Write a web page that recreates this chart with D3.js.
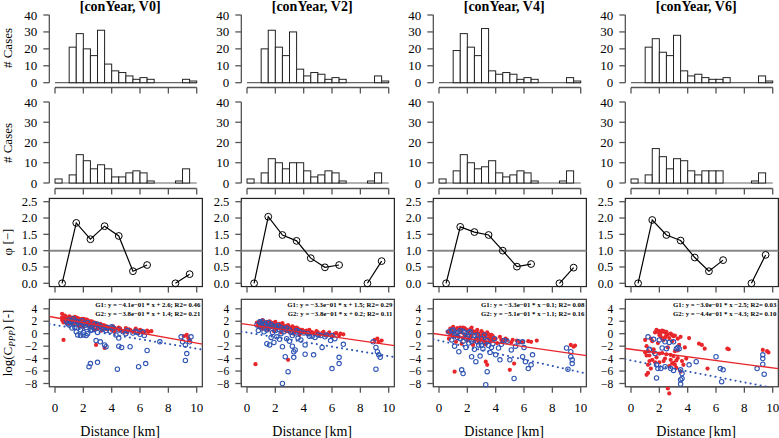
<!DOCTYPE html>
<html><head><meta charset="utf-8">
<script src="https://cdn.jsdelivr.net/npm/d3@7"></script>
<style>body{margin:0;background:#fff} svg{display:block} svg text{font-family:"Liberation Serif","DejaVu Serif","Times New Roman",Times,serif}</style>
</head><body><svg id="c" width="779" height="438" font-family="Liberation Serif, DejaVu Serif, serif"></svg>
<script>
// ---------------- DATA ----------------
const titles = ["[conYear, V0]", "[conYear, V2]", "[conYear, V4]", "[conYear, V6]"];
const binStarts = [0,0.5,1,1.5,2,2.5,3,3.5,4,4.5,5,5.5,6,6.5,7,7.5,8,8.5,9,9.5];
const histTop = [
  [0,0,21,29,20,16,31,11,7,6,4,2,3,2,0,0,0,0,2,1],
  [0,0,20,31,21,16,30,8,4,6,5,2,3,2,0,0,0,0,4,1],
  [0,0,19,29,21,16,32,7,5,6,5,2,3,2,0,0,0,0,3,1],
  [0,0,21,26,18,16,28,7,4,5,3,2,2,3,0,0,0,0,4,1]
];
const histBottom = [
  [2,0,4,14,11,7,9,7,3,3,5,6,5,1,0,0,0,1,7,0],
  [2,0,5,12,10,7,10,10,6,3,4,6,5,1,0,0,0,1,5,0],
  [2,0,6,14,10,7,8,11,5,3,4,6,5,1,0,0,0,1,6,0],
  [2,0,4,17,13,7,12,11,6,4,6,6,6,0,0,0,0,1,5,0]
];
const phiX = [0.5,1.5,2.5,3.5,4.5,5.5,6.5,7.5,8.5,9.5];
const phiVals = [
  [0,1.85,1.35,1.75,1.45,0.37,0.56,null,0,0.28],
  [0,2.04,1.48,1.30,0.77,0.49,0.56,null,0,0.68],
  [0,1.73,1.57,1.48,1.0,0.51,0.59,null,0,0.48],
  [0,1.94,1.48,1.31,0.79,0.37,0.71,null,0,0.87]
];
const fitG1 = [[-0.41,2.6],[-0.33,1.5],[-0.33,-0.1],[-0.30,-2.5]];
const fitG2 = [[-0.38,1.4],[-0.38,0.2],[-0.51,-1.1],[-0.44,-4.3]];
const fitLabelG1 = ["G1: y = \u22124.1e\u221201 * x + 2.6; R2= 0.46","G1: y = \u22123.3e\u221201 * x + 1.5; R2= 0.29","G1: y = \u22123.3e\u221201 * x \u22120.1; R2= 0.08","G1: y = \u22123.0e\u221201 * x \u22122.5; R2= 0.03"];
const fitLabelG2 = ["G2: y = \u22123.8e\u221201 * x + 1.4; R2= 0.21","G2: y = \u22123.8e\u221201 * x + 0.2; R2= 0.11","G2: y = \u22125.1e\u221201 * x \u22121.1; R2= 0.16","G2: y = \u22124.4e\u221201 * x \u22124.3; R2= 0.10"];

const g1V0 = [[0.5,3.2],[0.5,2.6],[0.5,2.2],[0.6,2.0],[0.6,1.8],[0.6,-1.0],[0.7,2.4],[0.7,2.9],[0.8,2.1],[0.8,1.7],[0.9,2.5],[0.9,2.0],[1.0,2.8],[1.0,2.3],[1.0,1.6],[1.1,2.0],[1.1,2.6],[1.2,2.2],[1.2,1.8],[1.3,2.5],[1.3,1.5],[1.4,2.1],[1.4,2.7],[1.5,1.9],[1.5,2.3],[1.6,1.6],[1.6,2.5],[1.7,2.0],[1.7,1.2],[1.8,2.2],[1.8,1.7],[1.9,1.4],[1.9,2.4],[2.0,1.9],[2.0,1.1],[2.1,2.1],[2.1,1.5],[2.2,1.7],[2.2,2.3],[2.3,1.3],[2.3,1.9],[2.4,1.6],[2.5,2.0],[2.5,1.0],[2.6,1.5],[2.7,1.8],[2.7,1.2],[2.8,1.4],[2.8,0.6],[2.9,1.7],[2.9,-1.8],[3.0,1.2],[3.0,0.8],[3.1,1.5],[3.2,1.0],[3.2,1.3],[3.3,0.5],[3.4,1.1],[3.5,-2.3],[3.5,0.9],[3.6,1.2],[3.7,0.7],[3.8,1.0],[4.0,0.6],[4.1,1.2],[4.2,0.3],[4.4,0.8],[4.5,1.0],[4.6,0.5],[4.8,0.4],[5.0,0.9],[5.1,0.2],[5.3,0.6],[5.5,0.3],[5.7,0.8],[5.9,0.1],[6.1,0.5],[6.3,0.2],[6.6,0.3],[6.8,0.4],[9.1,-0.4],[9.3,-0.2],[9.4,-0.7],[9.5,-1.0],
  [0.6,2.4],[0.7,2.2],[0.8,2.6],[0.9,2.3],[1.0,2.0],[1.1,2.4],[1.2,2.6],[1.3,2.1],[1.4,1.8],[1.5,2.6],[1.6,2.2],[1.7,2.4],[1.8,1.9],[1.9,2.1],[2.0,2.4],[2.1,1.8],[2.2,2.0],[2.3,2.2],[2.4,1.9],[2.5,1.7],[2.6,2.0],[2.7,1.5],[2.8,1.8],[2.9,1.3],[3.0,1.6],[3.1,1.1],[3.2,1.6],[3.3,1.2],[3.4,1.4],[3.5,1.3],[3.6,0.8],[3.7,1.1],[3.9,0.8],[4.2,0.9],[4.6,0.8],[5.2,0.7],[5.6,0.5],[6.0,0.6],[6.5,0.5]];
const g2V0 = [[0.9,1.6],[1.0,2.2],[1.1,1.9],[1.2,0.9],[1.3,2.4],[1.4,1.5],[1.5,0.3],[1.5,2.0],[1.6,-0.2],[1.7,1.7],[1.8,0.6],[1.9,2.1],[2.0,0.2],[2.1,1.3],[2.2,-0.3],[2.3,1.8],[2.4,-5.3],[2.5,-4.8],[2.5,0.5],[2.6,1.1],[2.8,1.6],[2.9,-1.1],[3.0,-4.6],[3.0,0.2],[3.2,-1.3],[3.2,1.2],[3.4,0.7],[3.5,-1.8],[3.6,-2.1],[3.7,1.0],[3.9,0.4],[4.1,0.9],[4.3,-0.2],[4.4,-5.7],[4.5,-0.7],[4.5,-2.0],[4.7,-2.2],[4.8,0.3],[5.1,0.5],[5.3,-2.1],[5.5,0.1],[5.7,0.4],[5.9,-5.3],[6.0,-0.1],[6.2,0.3],[6.4,-4.8],[6.5,-2.7],[7.4,-1.3],[8.9,-0.5],[9.0,-1.3],[9.2,-1.8],[9.2,-4.3],[9.3,-3.2],[9.5,-1.3],[9.6,-0.5],
  [0.8,2.0],[1.0,1.4],[1.2,2.1],[1.4,1.0],[1.6,1.9],[1.8,1.3],[2.0,1.6],[2.2,1.0],[2.4,1.4],[2.6,0.6],[2.8,1.0],[3.0,1.5],[3.3,0.9],[3.6,0.5],[4.0,1.1],[4.5,0.6],[5.0,0.0],[5.8,0.2],[6.3,-0.3],[2.0,-0.2],[1.8,-0.3],[2.3,0.0]];
const g1V2 = [[0.6,-4.9],[0.7,1.8],[0.8,1.2],[0.9,2.0],[1.0,1.5],[1.1,2.2],[1.1,0.8],[1.2,1.7],[1.3,1.1],[1.4,1.9],[1.5,0.6],[1.5,1.4],[1.6,2.0],[1.7,1.0],[1.8,1.6],[1.9,0.4],[2.0,1.3],[2.0,1.9],[2.1,0.8],[2.2,1.5],[2.3,1.1],[2.4,0.2],[2.5,1.7],[2.5,0.9],[2.6,1.3],[2.7,0.5],[2.8,1.0],[2.9,-4.2],[2.9,1.4],[3.0,0.3],[3.1,0.9],[3.2,1.2],[3.3,0.0],[3.4,0.7],[3.5,1.0],[3.6,0.4],[3.7,-0.2],[3.8,0.6],[4.0,0.2],[4.2,0.5],[4.3,-0.1],[4.5,0.3],[4.7,0.0],[4.9,0.4],[5.1,-0.3],[5.3,0.1],[5.5,-0.2],[5.8,0.2],[6.0,-0.4],[6.2,0.0],[6.5,-0.3],[6.8,-0.1],[9.0,-1.0],[9.2,-0.8],[9.3,-1.3],[9.5,-1.1],
  [0.8,1.5],[0.9,1.0],[1.0,1.9],[1.2,1.3],[1.3,1.8],[1.4,0.9],[1.6,1.4],[1.7,1.8],[1.8,1.1],[1.9,1.7],[2.1,1.4],[2.2,1.0],[2.3,1.6],[2.4,1.3],[2.6,0.7],[2.7,1.2],[2.8,0.4],[3.0,1.0],[3.1,0.5],[3.2,0.7],[3.3,1.0],[3.4,0.3],[3.6,0.8],[3.8,0.2],[3.9,0.6],[4.1,0.4],[4.4,0.6],[4.6,0.2],[5.0,0.2],[5.4,0.3],[5.7,-0.1],[6.3,0.1],[6.6,0.0]];
const g2V2 = [[0.8,0.5],[0.9,1.9],[1.0,1.2],[1.1,2.0],[1.2,0.3],[1.3,1.6],[1.4,-1.6],[1.5,0.9],[1.6,-1.8],[1.7,1.5],[1.8,0.2],[1.9,-1.4],[2.0,1.2],[2.1,-0.5],[2.2,0.7],[2.3,-0.9],[2.4,1.0],[2.5,-2.1],[2.5,-8.0],[2.6,0.3],[2.7,-3.7],[2.8,0.9],[2.9,-6.1],[3.0,-1.2],[3.1,0.2],[3.2,-2.0],[3.3,-2.9],[3.3,-3.8],[3.4,-2.6],[3.5,0.5],[3.6,-0.7],[3.8,-1.0],[4.0,0.1],[4.1,-1.8],[4.1,-3.3],[4.4,-0.4],[4.7,-3.4],[4.8,-0.6],[5.0,-0.2],[5.3,-2.2],[5.5,-0.5],[5.9,-1.1],[6.0,-5.6],[6.2,-0.8],[6.5,-4.8],[6.5,-3.8],[6.8,-1.7],[8.9,-1.3],[9.1,-2.2],[9.1,-5.7],[9.2,-2.9],[9.3,-3.4],[9.4,-3.8],
  [1.0,1.7],[1.2,1.4],[1.4,0.6],[1.5,1.8],[1.7,-0.6],[1.8,1.2],[2.0,0.5],[2.2,1.3],[2.4,0.0],[2.6,0.8],[2.8,-0.8],[3.0,0.6],[3.2,-0.3],[3.4,0.1],[3.7,0.3],[4.3,0.0],[4.6,-0.4],[5.2,-0.3],[5.6,-0.2],[6.0,-0.3],[0.7,1.4]];
const g1V4 = [[0.6,0.3],[0.7,-0.8],[0.8,0.8],[0.9,-0.2],[1.0,1.1],[1.1,-6.1],[1.1,0.2],[1.2,-1.3],[1.3,0.9],[1.4,-0.5],[1.5,0.5],[1.6,-1.6],[1.7,1.0],[1.8,-0.2],[1.9,0.7],[2.0,-1.1],[2.1,0.3],[2.2,-0.6],[2.3,1.0],[2.4,-1.8],[2.5,0.1],[2.6,-0.9],[2.7,0.6],[2.8,-1.4],[2.9,-0.3],[3.0,0.4],[3.1,-1.0],[3.2,-0.1],[3.3,-4.5],[3.3,-1.7],[3.4,-5.0],[3.4,0.2],[3.5,-0.8],[3.6,-1.3],[3.7,-0.2],[3.9,-0.9],[4.1,-1.5],[4.3,-0.5],[4.5,-1.2],[4.8,-1.0],[5.0,-5.8],[5.1,-1.4],[5.3,-4.8],[5.5,-1.1],[5.9,-1.3],[6.3,-1.2],[6.9,-1.1],[9.3,-1.8],[9.5,-2.1],[9.6,-1.9],
  [0.8,0.0],[0.9,0.5],[1.0,-0.5],[1.2,0.7],[1.3,-0.2],[1.5,1.0],[1.6,0.2],[1.7,-0.7],[1.8,0.9],[1.9,-0.3],[2.0,0.5],[2.1,-0.8],[2.2,0.7],[2.3,-0.3],[2.4,0.4],[2.5,-1.2],[2.6,0.3],[2.7,-0.6],[2.8,0.0],[2.9,-1.0],[3.0,-0.4],[3.1,0.1],[3.2,-1.2],[3.3,-0.5],[3.5,-0.1],[3.6,-0.6],[3.7,-1.0],[3.8,-0.4],[4.0,-0.8],[4.4,-1.0],[4.7,-0.8],[5.2,-1.0],[5.7,-1.4],[6.5,-1.3]];
const g2V4 = [[0.7,0.3],[0.9,-1.0],[1.0,0.6],[1.1,-2.0],[1.2,0.0],[1.3,-0.6],[1.4,-2.9],[1.5,0.5],[1.6,-5.8],[1.7,-6.4],[1.7,-1.2],[1.8,0.2],[1.9,-2.2],[2.0,-0.4],[2.1,-1.5],[2.2,0.3],[2.3,-3.7],[2.4,-0.9],[2.5,-2.5],[2.6,-4.5],[2.7,-0.2],[2.8,-1.8],[2.9,-3.6],[3.0,-0.8],[3.1,-2.4],[3.2,-1.3],[3.3,-8.2],[3.4,-6.1],[3.5,-1.9],[3.6,-3.0],[3.8,-1.6],[4.0,-3.4],[4.2,-2.3],[4.3,-4.2],[4.6,-1.1],[5.0,-4.2],[5.1,-2.6],[5.3,-7.2],[5.6,-1.3],[5.9,-1.3],[5.9,-3.7],[6.1,-4.5],[6.3,-5.6],[6.5,-5.0],[6.6,-3.4],[9.0,-2.3],[9.1,-5.7],[9.3,-2.9],[9.3,-3.7],[9.4,-4.2],[9.4,-4.8],
  [0.9,0.5],[1.1,-0.3],[1.3,0.2],[1.5,-0.8],[1.7,0.4],[1.9,-0.7],[2.1,0.2],[2.3,-1.2],[2.5,-0.3],[2.7,-1.3],[3.0,-1.9],[3.2,-0.2],[3.4,-1.1],[3.7,-2.2],[3.9,-0.8],[4.4,-1.7],[4.8,-1.2],[5.4,-2.0],[6.0,-2.2]];
const g1V6 = [[1.0,-1.0],[1.0,-3.0],[1.1,-6.6],[1.1,-2.0],[1.2,-5.0],[1.3,-3.5],[1.4,-0.8],[1.5,-4.2],[1.6,-2.5],[1.7,0.2],[1.8,0.6],[1.8,-3.8],[1.9,-1.5],[2.0,0.4],[2.0,-4.6],[2.1,-0.5],[2.2,0.5],[2.2,-3.1],[2.3,-1.0],[2.4,0.2],[2.4,-4.0],[2.5,-0.3],[2.6,-8.8],[2.6,-2.2],[2.7,-9.6],[2.7,-5.2],[2.8,0.0],[2.8,-3.4],[2.9,-1.2],[3.0,-4.7],[3.0,-0.4],[3.1,-2.8],[3.2,-5.5],[3.3,-0.8],[3.3,-3.9],[3.4,-1.8],[3.5,-0.5],[3.5,-6.1],[3.6,-4.4],[3.7,-5.0],[3.8,-2.2],[3.9,-4.0],[4.1,-0.7],[4.8,-1.6],[5.0,-1.8],[5.2,-2.4],[5.4,-5.6],[6.8,-2.4],[6.9,-2.5],[9.3,-2.6],[9.6,-2.8],[9.7,-3.0],
  [1.1,-3.5],[1.2,-2.8],[1.3,-4.4],[1.5,-1.2],[1.6,-3.0],[1.9,0.3],[2.0,-0.2],[2.1,0.1],[2.2,-0.8],[2.3,0.4],[2.4,-0.6],[2.5,0.3],[2.6,-0.1],[2.7,-0.7],[2.8,-4.2],[2.9,-4.8],[3.0,-3.6],[3.1,-5.0],[3.2,-4.3],[3.3,-2.7],[2.5,-3.3],[2.3,-4.4],[2.0,-3.2],[1.7,-4.6],[1.4,-5.6],[1.2,-6.3],[2.9,-0.2],[3.1,-0.3]];
const g2V6 = [[1.2,-0.5],[1.3,-2.6],[1.7,-3.2],[1.8,-5.0],[1.8,-7.1],[2.1,-5.6],[2.4,-1.3],[2.5,-2.4],[2.8,-5.6],[3.0,-1.3],[3.2,-2.4],[3.4,-2.4],[3.5,-5.8],[3.6,-6.4],[3.5,-7.4],[3.5,-8.1],[4.1,-5.0],[4.6,-4.5],[6.0,-3.7],[6.3,-5.6],[6.4,-7.7],[6.5,-5.8],[8.9,-5.6],[9.3,-3.4],[9.3,-4.0],[9.3,-4.9],[9.4,-6.5],
  [1.3,-2.5],[1.6,-0.9],[2.0,-1.0],[2.2,-2.3],[2.7,-1.4],[3.0,-5.9],[3.3,-2.2],[3.6,-7.2],[2.4,-5.3],[1.9,-5.6]];
const pointsG1 = [g1V0, g1V2, g1V4, g1V6];
const pointsG2 = [g2V0, g2V2, g2V4, g2V6];
const histTicks = [0,10,20,30,40];
const phiTicks = [0,0.5,1,1.5,2,2.5];
const logTicks = [-8,-6,-4,-2,0,2,4];
const distTicks = [0,2,4,6,8,10];

// ---------------- LAYOUT ----------------
const svg = d3.select("#c");
const FONT = "'Liberation Serif','DejaVu Serif','Times New Roman',Times,serif";
const AX = "#555", RED = "#e8262b", BLUE = "#2f55b4";
const colZero = [55, 247, 439, 631];
const kmPx = 141.7;
const rows = {
  h1: {y0: 82.7, yTop: 15.0, axisY: 87.5},
  h2: {y0: 183, yTop: 102, axisY: 188.5},
  phi: {y0: 283.3, yTop: 201.7},
  sc: {y0: 333.7, y4: 308.8}
};
function txt(g) { return g.append("text").style("font-family", FONT); }

function vAxis(g, x, scale, ticks, fmt, fs) {
  g.append("line").attr("x1", x).attr("x2", x)
    .attr("y1", scale(ticks[0])).attr("y2", scale(ticks[ticks.length-1]))
    .attr("stroke", AX).attr("stroke-width", 1.3);
  ticks.forEach(t => {
    g.append("line").attr("x1", x-6).attr("x2", x).attr("y1", scale(t)).attr("y2", scale(t))
      .attr("stroke", AX).attr("stroke-width", 1.3);
    txt(g).attr("x", x-12).attr("y", scale(t)).attr("dy", "0.35em")
      .attr("text-anchor", "end").attr("font-size", fs).text(fmt(t));
  });
}
function hAxis(g, y, xs, ticks) {
  g.append("line").attr("x1", xs(ticks[0])).attr("x2", xs(ticks[ticks.length-1]))
    .attr("y1", y).attr("y2", y).attr("stroke", AX).attr("stroke-width", 1.3);
  ticks.forEach(t => g.append("line").attr("x1", xs(t)).attr("x2", xs(t))
    .attr("y1", y).attr("y2", y+6).attr("stroke", AX).attr("stroke-width", 1.3));
}

for (let c = 0; c < 4; c++) {
  const xs = d3.scaleLinear().domain([0, 10]).range([colZero[c], colZero[c] + kmPx]);
  const g = svg.append("g");
  const left = xs(-0.4), right = xs(10.4);

  txt(g).attr("x", xs(4.6)).attr("y", 11).attr("text-anchor", "middle")
    .attr("font-size", 14).attr("font-weight", "bold").text(titles[c]);

  [["h1", histTop[c]], ["h2", histBottom[c]]].forEach(([key, counts]) => {
    const r = rows[key];
    const ys = d3.scaleLinear().domain([0, 40]).range([r.y0, r.yTop]);
    vAxis(g, left, ys, histTicks, d => d, 13);
    hAxis(g, r.axisY, xs, distTicks);
    g.append("line").attr("x1", xs(0)).attr("x2", xs(10)).attr("y1", ys(0)).attr("y2", ys(0))
      .attr("stroke", "#666").attr("stroke-width", 1.2);
    counts.forEach((n, i) => {
      if (n > 0) g.append("rect").attr("x", xs(binStarts[i])).attr("y", ys(n))
        .attr("width", xs(binStarts[i] + 0.5) - xs(binStarts[i])).attr("height", ys(0) - ys(n))
        .attr("fill", "#fff").attr("stroke", "#222").attr("stroke-width", 1);
    });
  });

  {
    const r = rows.phi;
    const ys = d3.scaleLinear().domain([0, 2.5]).range([r.y0, r.yTop]);
    g.append("rect").attr("x", left).attr("y", ys(2.6)).attr("width", right-left)
      .attr("height", ys(-0.1) - ys(2.6)).attr("fill", "none").attr("stroke", "#222").attr("stroke-width", 1.2);
    vAxis(g, left, ys, phiTicks, d3.format(".1f"), 12.5);
    distTicks.forEach(t => g.append("line").attr("x1", xs(t)).attr("x2", xs(t))
      .attr("y1", ys(-0.1)).attr("y2", ys(-0.1)+6).attr("stroke", AX).attr("stroke-width", 1.3));
    g.append("line").attr("x1", left).attr("x2", right).attr("y1", ys(1)).attr("y2", ys(1))
      .attr("stroke", "#888").attr("stroke-width", 2);
    const pts = phiX.map((x, i) => [x, phiVals[c][i]]);
    g.append("path").datum(pts)
      .attr("d", d3.line().defined(d => d[1] !== null).x(d => xs(d[0])).y(d => ys(d[1])))
      .attr("fill", "none").attr("stroke", "#000").attr("stroke-width", 1.2);
    pts.filter(d => d[1] !== null).forEach(d => g.append("circle").attr("cx", xs(d[0])).attr("cy", ys(d[1]))
      .attr("r", 3.4).attr("fill", "none").attr("stroke", "#000").attr("stroke-width", 1));
  }

  {
    const r = rows.sc;
    const ys = d3.scaleLinear().domain([0, 4]).range([r.y0, r.y4]);
    const top = ys(5.52), bot = ys(-8.52);
    g.append("rect").attr("x", left).attr("y", top).attr("width", right-left).attr("height", bot-top)
      .attr("fill", "none").attr("stroke", "#444").attr("stroke-width", 1.3);
    vAxis(g, left, ys, logTicks, d => d < 0 ? "\u2212" + Math.abs(d) : d, 11.5);
    hAxis(g, bot, xs, distTicks);
    distTicks.forEach(t => txt(g).attr("x", xs(t)).attr("y", 412).attr("text-anchor", "middle")
      .attr("font-size", 13).text(t));
    const clipId = "clip" + c;
    svg.append("clipPath").attr("id", clipId).append("rect")
      .attr("x", left).attr("y", top).attr("width", right-left).attr("height", bot-top);
    pointsG1[c].forEach(d => g.append("circle").attr("cx", xs(d[0])).attr("cy", ys(d[1]))
      .attr("r", 2.1).attr("fill", RED));
    pointsG2[c].forEach(d => g.append("circle").attr("cx", xs(d[0])).attr("cy", ys(d[1]))
      .attr("r", 2.2).attr("fill", "none").attr("stroke", BLUE).attr("stroke-width", 1.1));
    const lg = g.append("g").attr("clip-path", `url(#${clipId})`);
    lg.append("line").attr("x1", xs(-0.4)).attr("x2", xs(10.4))
      .attr("y1", ys(fitG1[c][1] + fitG1[c][0] * -0.4)).attr("y2", ys(fitG1[c][1] + fitG1[c][0] * 10.4))
      .attr("stroke", RED).attr("stroke-width", 1.3);
    lg.append("line").attr("x1", xs(-0.4)).attr("x2", xs(10.4))
      .attr("y1", ys(fitG2[c][1] + fitG2[c][0] * -0.4)).attr("y2", ys(fitG2[c][1] + fitG2[c][0] * 10.4))
      .attr("stroke", BLUE).attr("stroke-width", 2).attr("stroke-dasharray", "0.1 5").attr("stroke-linecap", "round");
    txt(g).attr("x", right-2).attr("y", top+8).attr("text-anchor", "end")
      .attr("font-size", 6.8).attr("font-weight", "bold").text(fitLabelG1[c]);
    txt(g).attr("x", right-2).attr("y", top+17).attr("text-anchor", "end")
      .attr("font-size", 6.8).attr("font-weight", "bold").text(fitLabelG2[c]);
    txt(g).attr("x", xs(4.6)).attr("y", 436).attr("text-anchor", "middle")
      .attr("font-size", 14).text("Distance [km]");
  }
}

function yLabel(y, build) {
  const t = txt(svg).attr("transform", `translate(12,${y}) rotate(-90)`)
    .attr("text-anchor", "middle").attr("font-size", 13);
  build(t);
}
yLabel(48, t => t.text("# Cases"));
yLabel(143, t => t.text("# Cases"));
yLabel(242, t => t.text("\u03c6 [\u2212]"));
yLabel(343, t => { t.append("tspan").text("log(C"); t.append("tspan").attr("font-size", 9).attr("font-style", "italic").attr("dy", 3).text("PPP"); t.append("tspan").attr("dy", -3).text(") [-]"); });
</script></body></html>
